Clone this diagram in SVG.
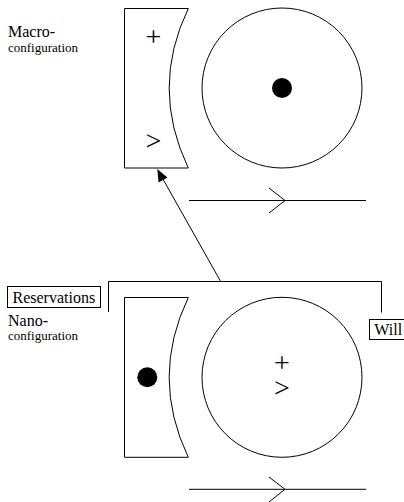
<svg xmlns="http://www.w3.org/2000/svg" width="404" height="502" viewBox="0 0 404 502">
<style>
.s{fill:none;stroke:#000;stroke-width:1}
</style>
<rect x="0" y="0" width="404" height="502" fill="#fff"/>
<g id="labels">
<text x="8" y="37" style="font-family:'Liberation Serif',serif;font-size:16px">Macro-</text>
<text x="8" y="52" style="font-family:'Liberation Serif',serif;font-size:13px">configuration</text>
<text x="8" y="326" style="font-family:'Liberation Serif',serif;font-size:16px">Nano-</text>
<text x="8" y="340" style="font-family:'Liberation Serif',serif;font-size:13px">configuration</text>
</g>
<g id="macro-shape">
<path class="s" d="M124.5,8.5 H188.3 Q150,88 188.3,168 H124.5 Z"/>
<text x="153.3" y="45.5" text-anchor="middle" style="font-family:'Liberation Serif',serif;font-size:28px">+</text>
<text x="153.3" y="149.5" text-anchor="middle" style="font-family:'Liberation Serif',serif;font-size:28px">&gt;</text>
</g>
<g id="macro-circle">
<circle class="s" cx="282" cy="88" r="80"/>
<circle cx="282" cy="88" r="10" fill="#000"/>
</g>
<g id="macro-direction">
<path class="s" d="M189,200.5 H366 M269,188 L285,200.5 L269,213"/>
</g>
<g id="reservations">
<rect class="s" x="7.5" y="286.5" width="93" height="21"/>
<text x="12.5" y="302.5" style="font-family:'Liberation Serif',serif;font-size:16px">Reservations</text>
</g>
<g id="will">
<rect class="s" x="369.5" y="319.5" width="38" height="20"/>
<text x="374.3" y="335" style="font-family:'Liberation Serif',serif;font-size:16px">Will</text>
</g>
<g id="nano-shape">
<path class="s" d="M124.5,297.5 H188.3 Q150,377.3 188.3,457.3 H124.5 Z"/>
<circle cx="147.3" cy="377.3" r="10" fill="#000"/>
</g>
<g id="nano-circle">
<circle class="s" cx="282" cy="377.3" r="80"/>
<text x="282" y="372" text-anchor="middle" style="font-family:'Liberation Serif',serif;font-size:28px">+</text>
<text x="282" y="397" text-anchor="middle" style="font-family:'Liberation Serif',serif;font-size:28px">&gt;</text>
</g>
<g id="nano-direction">
<path class="s" d="M189,489.3 H366 M269,477 L285,489.3 L269,502"/>
</g>
<g id="connectors">
<path class="s" d="M108.5,312 V281.5 H381.5 V312.5"/>
<line class="s" x1="220.7" y1="281.5" x2="162" y2="177.4"/>
<polygon points="157.3,169 167.4,177.5 158.6,182.5" fill="#000"/>
</g>
</svg>
